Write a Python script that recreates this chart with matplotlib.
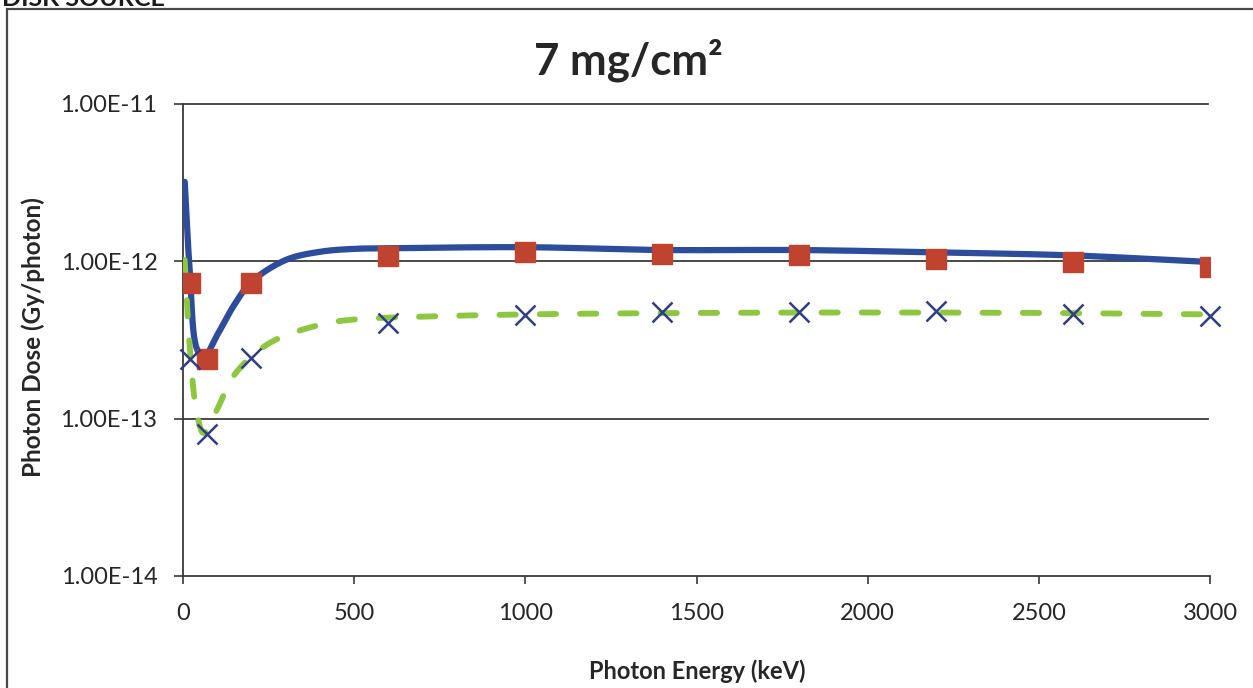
import numpy as np
import matplotlib
matplotlib.use("Agg")
import matplotlib.pyplot as plt
from matplotlib.patches import Rectangle
from matplotlib.ticker import FixedLocator, FixedFormatter, NullLocator

# Marker series (keV, Gy/photon)
energy_pts = [20, 70, 200, 600, 1000, 1400, 1800, 2200, 2600, 3000]
dose_squares = [7.3e-13, 2.38e-13, 7.3e-13, 1.08e-12, 1.14e-12, 1.12e-12,
                1.09e-12, 1.04e-12, 0.99e-12, 0.92e-12]
dose_crosses = [2.4e-13, 8.0e-14, 2.44e-13, 4.08e-13, 4.59e-13, 4.73e-13,
                4.73e-13, 4.8e-13, 4.66e-13, 4.47e-13]

# Continuous curves
solid_energy = [5, 20, 40, 60, 100, 150, 200, 300, 400, 500, 600,
                1000, 1400, 1800, 2200, 2600, 3000]
solid_dose = [3.2e-12, 8.5e-13, 2.8e-13, 2.45e-13, 3.4e-13, 5.3e-13, 7.4e-13,
              1.02e-12, 1.15e-12, 1.2e-12, 1.21e-12, 1.23e-12, 1.18e-12,
              1.18e-12, 1.14e-12, 1.09e-12, 0.99e-12]

dashed_energy = [5, 20, 40, 60, 100, 150, 250, 400, 500, 700, 1000,
                 1500, 2000, 2500, 3000]
dashed_dose = [1.02e-12, 2.8e-13, 1.1e-13, 8.1e-14, 1.15e-13, 1.9e-13,
               3.0e-13, 3.95e-13, 4.27e-13, 4.45e-13, 4.6e-13, 4.7e-13,
               4.73e-13, 4.7e-13, 4.6e-13]

y_ticks = [1e-14, 1e-13, 1e-12, 1e-11]
y_tick_labels = ["1.00E-14", "1.00E-13", "1.00E-12", "1.00E-11"]
x_ticks = [0, 500, 1000, 1500, 2000, 2500, 3000]
x_tick_labels = ["0", "500", "1000", "1500", "2000", "2500", "3000"]

FONT = "Lato"
TEXT = "#262626"

W, H = 1253, 688
fig = plt.figure(figsize=(W / 100, H / 100), dpi=100)
fig.patch.set_facecolor("white")

ax_l, ax_r, ax_t, ax_b = 183, 1210, 104, 576
ax = fig.add_axes([ax_l / W, 1 - ax_b / H, (ax_r - ax_l) / W, (ax_b - ax_t) / H])

# pixel-like scaling used for smoothing the curves
sx = (ax_r - ax_l) / 3000.0
sy = (ax_b - ax_t) / 3.0


def smooth(xs, ys, n=30):
    """Centripetal Catmull-Rom through the points in (x, log y) display units."""
    P = np.column_stack([np.asarray(xs, float) * sx,
                         np.log10(np.asarray(ys, float)) * sy])
    P = np.vstack([2 * P[0] - P[1], P, 2 * P[-1] - P[-2]])
    out = []
    for i in range(1, len(P) - 2):
        p0, p1, p2, p3 = P[i - 1], P[i], P[i + 1], P[i + 2]
        t0 = 0.0
        t1 = t0 + max(np.linalg.norm(p1 - p0), 1e-6) ** 0.5
        t2 = t1 + max(np.linalg.norm(p2 - p1), 1e-6) ** 0.5
        t3 = t2 + max(np.linalg.norm(p3 - p2), 1e-6) ** 0.5
        t = np.linspace(t1, t2, n)[:, None]
        a1 = (t1 - t) / (t1 - t0) * p0 + (t - t0) / (t1 - t0) * p1
        a2 = (t2 - t) / (t2 - t1) * p1 + (t - t1) / (t2 - t1) * p2
        a3 = (t3 - t) / (t3 - t2) * p2 + (t - t2) / (t3 - t2) * p3
        b1 = (t2 - t) / (t2 - t0) * a1 + (t - t0) / (t2 - t0) * a2
        b2 = (t3 - t) / (t3 - t1) * a2 + (t - t1) / (t3 - t1) * a3
        c = (t2 - t) / (t2 - t1) * b1 + (t - t1) / (t2 - t1) * b2
        out.append(c if i == 1 else c[1:])
    C = np.vstack(out)
    return C[:, 0] / sx, 10 ** (C[:, 1] / sy)


ax.set_yscale("log")
ax.set_xlim(0, 3000)
ax.set_ylim(1e-14, 1e-11)

# horizontal gridlines
for yv in y_ticks[1:]:
    ax.axhline(yv, xmin=0, xmax=(1208 - ax_l) / (ax_r - ax_l), color="#3a3a3a",
               lw=1.3, zorder=1, clip_on=False)

bx, by = smooth(solid_energy, solid_dose)
ax.plot(bx, by, color="#2D4C9C", lw=4.5, solid_capstyle="round", zorder=3)

gx, gy = smooth(dashed_energy, dashed_dose)
ax.plot(gx, gy, color="#8DC63F", lw=4.2, dashes=(2.8, 4.1),
        dash_capstyle="round", zorder=3)

ax.plot(energy_pts, dose_squares, ls="none", marker="s", ms=15,
        mfc="#C0432F", mec="#C0432F", zorder=4)
ax.plot(energy_pts, dose_crosses, ls="none", marker="x", ms=14,
        mew=1.8, color="#2E3D86", zorder=5, clip_on=False)

for s in ("top", "right"):
    ax.spines[s].set_visible(False)
for s in ("left", "bottom"):
    ax.spines[s].set_color("#3a3a3a")
    ax.spines[s].set_linewidth(1.3)

ax.yaxis.set_major_locator(FixedLocator(y_ticks))
ax.yaxis.set_major_formatter(FixedFormatter(y_tick_labels))
ax.yaxis.set_minor_locator(NullLocator())
ax.xaxis.set_major_locator(FixedLocator(x_ticks))
ax.xaxis.set_major_formatter(FixedFormatter(x_tick_labels))

ax.tick_params(axis="y", direction="out", length=6.5, width=1.2,
               color="#3a3a3a", pad=12, labelsize=17, labelcolor=TEXT)
ax.tick_params(axis="x", direction="out", length=5.5, width=1.2,
               color="#3a3a3a", pad=14, labelsize=17, labelcolor=TEXT)
for lab in ax.get_xticklabels() + ax.get_yticklabels():
    lab.set_fontfamily(FONT)

fig.text(697 / W, 1 - 671 / H, "Photon Energy (keV)", ha="center", va="center",
         fontsize=17, fontweight="bold", family=FONT, color=TEXT)
fig.text(33 / W, 1 - 337 / H, "Photon Dose (Gy/photon)", ha="center",
         va="center", rotation=90, fontsize=17.5, fontweight="bold",
         family=FONT, color=TEXT)
fig.text(628 / W, 1 - 60 / H, "7 mg/cm²", ha="center", va="center",
         fontsize=31.5, fontweight="bold", family=FONT, color=TEXT)

# section heading and frame around the chart
fig.text(2 / W, 1 - 6 / H, "DISK SOURCE", ha="left", va="baseline",
         fontsize=18, fontweight="bold", family=FONT, color="#1a1a1a")
fig.add_artist(Rectangle((7 / W, -0.2), 1.3, 1.2 - 9 / H,
                         transform=fig.transFigure, fill=False,
                         edgecolor="#4a4a4a", lw=1.6, clip_on=False))

fig.savefig("out.png", dpi=100)
